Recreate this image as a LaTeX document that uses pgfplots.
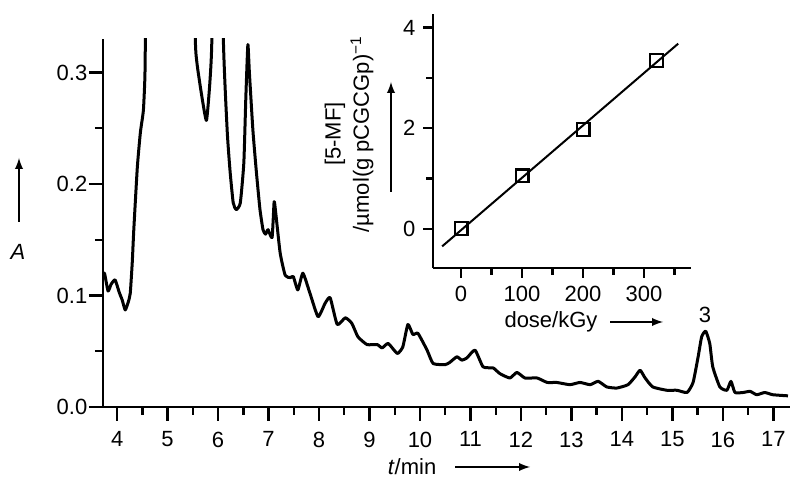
\documentclass[border=0pt]{standalone}
\usepackage{pgfplots}
\pgfplotsset{compat=1.18}
\usepackage{fontspec}
\setmainfont{Liberation Sans}
\begin{document}
\fontsize{11}{13}\selectfont
\begin{tikzpicture}
\path[use as bounding box] (0,0) rectangle (400pt,246pt);
\pgfplotsset{
  myax/.style={
    scale only axis,
    axis x line*=bottom, axis y line*=left,
    tick align=outside,
    axis line style={line width=1.2pt},
    every tick/.style={line width=1.2pt, black},
    tick label style={font=\fontsize{11}{13}\selectfont},
    /pgf/number format/assume math mode=true,
  }
}
% main chromatogram
\begin{axis}[myax,
  at={(51.5pt,42.5pt)}, anchor=south west,
  width=343.5pt, height=184pt,
  xmin=3.72, xmax=17.33, ymin=0, ymax=0.33,
  xtick={4,5,...,17}, minor xtick={4.5,5.5,...,16.5,17},
  ytick={0,0.1,0.2,0.3}, minor ytick={0.05,0.15,0.25},
  major tick length=7pt, minor tick length=4pt,
  yticklabel style={xshift=3pt, /pgf/number format/.cd, fixed, fixed zerofill, precision=1},
  xticklabel style={yshift=-1.5pt, /pgf/number format/.cd, fixed, precision=0},
]
\addplot[black, line width=1.5pt, line join=round, smooth, tension=0.3] coordinates {
(3.72,0.117) (3.75,0.120) (3.82,0.104) (3.88,0.110) (3.96,0.114) (4.04,0.103) (4.10,0.096) (4.16,0.087)
(4.22,0.094) (4.26,0.102) (4.30,0.130) (4.33,0.159) (4.40,0.215) (4.46,0.246) (4.52,0.266) (4.55,0.296)
(4.56,0.34) (4.58,0.6) (5.50,0.6) (5.545,0.34) (5.58,0.309) (5.68,0.278) (5.77,0.257) (5.84,0.293)
(5.88,0.34) (5.90,0.6) (6.08,0.6) (6.10,0.34) (6.18,0.248) (6.24,0.210) (6.30,0.183) (6.36,0.177)
(6.44,0.183) (6.51,0.219) (6.55,0.278) (6.59,0.325) (6.62,0.300) (6.69,0.248) (6.76,0.210) (6.83,0.177)
(6.89,0.159) (6.94,0.155) (6.99,0.159) (7.07,0.152) (7.11,0.184) (7.14,0.175) (7.23,0.138) (7.33,0.118)
(7.43,0.116) (7.49,0.117) (7.58,0.105) (7.68,0.120) (7.82,0.102) (7.98,0.081) (8.12,0.093) (8.22,0.098)
(8.36,0.074) (8.52,0.080) (8.65,0.075) (8.77,0.063) (8.95,0.056) (9.15,0.056) (9.25,0.053) (9.37,0.057)
(9.55,0.048) (9.66,0.054) (9.76,0.074) (9.86,0.065) (9.96,0.066) (10.14,0.051) (10.26,0.039) (10.50,0.038)
(10.59,0.040) (10.73,0.045) (10.83,0.042) (10.93,0.044) (11.09,0.051) (11.25,0.036) (11.45,0.035)
(11.58,0.030) (11.78,0.026) (11.92,0.031) (12.08,0.026) (12.32,0.026) (12.52,0.022) (12.71,0.022)
(12.97,0.020) (13.17,0.022) (13.37,0.020) (13.53,0.023) (13.70,0.018) (13.90,0.017) (14.12,0.020)
(14.26,0.027) (14.36,0.033) (14.46,0.026) (14.61,0.018) (14.89,0.015) (15.09,0.015) (15.29,0.013)
(15.41,0.022) (15.51,0.045) (15.58,0.063) (15.66,0.068) (15.74,0.057) (15.80,0.036) (15.94,0.018)
(16.08,0.015) (16.16,0.023) (16.24,0.013) (16.40,0.013) (16.54,0.014) (16.67,0.011) (16.83,0.013)
(16.99,0.011) (17.29,0.010)
};
\end{axis}
% inset
\begin{axis}[myax,
  at={(216.5pt,112pt)}, anchor=south west,
  width=129pt, height=127pt,
  xmin=-46, xmax=377, ymin=-0.78, ymax=4.27,
  xtick={0,100,200,300}, minor xtick={50,150,250,350},
  ytick={0,2,4}, minor ytick={1,3},
  major tick length=5pt, minor tick length=3.5pt,
]
\addplot[black, line width=1pt] coordinates {(-31,-0.35) (356,3.68)};
\addplot[black, only marks, mark=square, mark size=3.2pt, mark options={line width=1.1pt, fill=white}]
  coordinates {(0,0) (100,1.05) (200,1.97) (320,3.35)};
\end{axis}
% labels
\node at (9pt,120pt) {\textit{A}};
\draw[line width=0.9pt, -latex] (9.5pt,135pt) -- (9.5pt,167pt);
\node[anchor=east] at (222pt,12.5pt) {\textit{t}/min};
\draw[line width=0.9pt, -latex] (227.5pt,12.5pt) -- (265pt,12.5pt);
\node at (275.5pt,85pt) {dose/kGy};
\draw[line width=0.9pt, -latex] (305pt,85pt) -- (331.5pt,85pt);
\node at (352.5pt,88.5pt) {3};
\node[rotate=90] at (167.5pt,179pt) {[5-MF]};
\node[rotate=90] at (181pt,179pt) {/µmol(g pCGCGp)\textsuperscript{−1}};
\draw[line width=0.9pt, -latex] (195.5pt,150pt) -- (195.5pt,205pt);
\end{tikzpicture}
\end{document}
